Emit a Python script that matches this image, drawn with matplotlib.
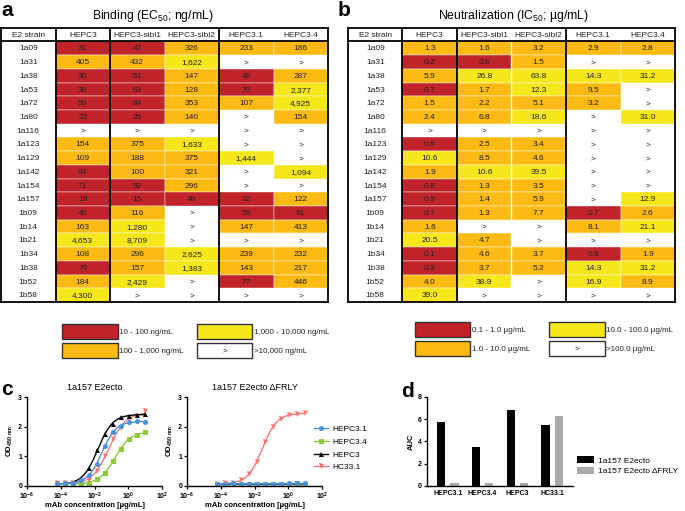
import numpy as np
import matplotlib
matplotlib.use("Agg")
import matplotlib.pyplot as plt
from matplotlib.patches import Rectangle
from matplotlib.lines import Line2D
from matplotlib.patches import Patch

plt.rcParams['font.family'] = ['Liberation Sans', 'DejaVu Sans']
plt.rcParams['mathtext.default'] = 'regular'

# ---------------- data ----------------
strains = ["1a09", "1a31", "1a38", "1a53", "1a72", "1a80", "1a116", "1a123", "1a129",
           "1a142", "1a154", "1a157", "1b09", "1b14", "1b21", "1b34", "1b38", "1b52", "1b58"]
antibodies = ["HEPC3", "HEPC3-sibl1", "HEPC3-sibl2", "HEPC3.1", "HEPC3.4"]
N = None  # ">" (no binding / neutralization at highest concentration)

bind_hepc3 = [31, 405, 36, 38, 59, 23, N, 154, 109, 64, 71, 18, 46, 163, 4653, 108, 79, 184, 4300]
bind_sibl1 = [42, 432, 51, 63, 84, 29, N, 375, 188, 100, 92, 15, 116, 1280, 8709, 296, 157, 2429, N]
bind_sibl2 = [326, 1622, 147, 128, 353, 140, N, 1633, 375, 321, 296, 48, N, N, N, 2625, 1383, N, N]
bind_hepc31 = [233, N, 49, 70, 107, N, N, N, 1444, N, N, 22, 58, 147, N, 239, 143, 77, N]
bind_hepc34 = [186, N, 287, 2377, 4925, 154, N, N, N, 1094, N, 122, 91, 413, N, 232, 217, 446, N]

neut_hepc3 = [1.3, 0.2, 5.9, 0.7, 1.5, 2.4, N, 0.9, 10.6, 1.9, 0.8, 0.9, 0.7, 1.6, 20.5, 0.1, 0.3, 4.0, 39.0]
neut_sibl1 = [1.6, 0.8, 26.8, 1.7, 2.2, 6.8, N, 2.5, 8.5, 10.6, 1.3, 1.4, 1.3, N, 4.7, 4.6, 3.7, 38.9, N]
neut_sibl2 = [3.2, 1.5, 63.8, 12.3, 5.1, 18.6, N, 3.4, 4.6, 39.5, 3.5, 5.9, 7.7, N, N, 3.7, 5.2, N, N]
neut_hepc31 = [2.9, N, 14.3, 9.5, 3.2, N, N, N, N, N, N, N, 0.7, 8.1, N, 0.9, 14.3, 16.9, N]
neut_hepc34 = [2.8, N, 31.2, N, N, 31.0, N, N, N, N, N, 12.9, 2.6, 21.1, N, 1.9, 31.2, 8.9, N]

bind_bins = [10, 100, 1000, 10000]
neut_bins = [0.1, 1.0, 10.0, 100.0]
bind_legend = ["10 - 100 ng/mL", "100 - 1,000 ng/mL", "1,000 - 10,000 ng/mL", ">10,000 ng/mL"]
neut_legend = ["0.1 - 1.0 µg/mL", "1.0 - 10.0 µg/mL", "10.0 - 100.0 µg/mL", ">100.0 µg/mL"]

# panel c: ELISA (3-fold dilutions from 10 µg/mL)
conc = [0.0000565, 0.000169, 0.000508, 0.00152, 0.00457, 0.0137, 0.0412, 0.123, 0.370, 1.11, 3.33, 10.0]
c_names = ["HEPC3.1", "HEPC3.4", "HEPC3", "HC33.1"]
od_wt = {
    "HEPC3.1": [0.06, 0.07, 0.10, 0.17, 0.34, 0.74, 1.34, 1.80, 2.02, 2.15, 2.19, 2.14],
    "HEPC3.4": [0.05, 0.05, 0.06, 0.07, 0.10, 0.22, 0.43, 0.82, 1.25, 1.59, 1.70, 1.81],
    "HEPC3":   [0.07, 0.08, 0.10, 0.20, 0.60, 1.19, 1.73, 2.10, 2.33, 2.37, 2.38, 2.41],
    "HC33.1":  [0.10, 0.07, 0.07, 0.09, 0.17, 0.50, 1.00, 1.57, 1.95, 2.25, 2.35, 2.52],
}
od_dfrly = {
    "HEPC3.1": [0.06, 0.06, 0.07, 0.06, 0.06, 0.06, 0.06, 0.06, 0.06, 0.07, 0.07, 0.07],
    "HEPC3.4": [0.05, 0.06, 0.06, 0.06, 0.05, 0.06, 0.06, 0.06, 0.06, 0.06, 0.07, 0.06],
    "HEPC3":   [0.05, 0.05, 0.05, 0.05, 0.05, 0.05, 0.05, 0.05, 0.05, 0.05, 0.05, 0.05],
    "HC33.1":  [0.05, 0.07, 0.10, 0.19, 0.38, 0.80, 1.48, 1.97, 2.27, 2.39, 2.42, 2.45],
}

# panel d: AUC
d_groups = ["HEPC3.1", "HEPC3.4", "HEPC3", "HC33.1"]
auc_wt = [5.7, 3.45, 6.85, 5.45]
auc_dfrly = [0.25, 0.25, 0.3, 6.25]

# ---------------- styles ----------------
CELL_COLORS = ["#C1232B", "#FDBA12", "#F6E71A", "white"]
TXT = "#222222"
FS_T = 6.0
c_style = {
    "HEPC3.1": dict(color="#4D90D8", marker="o"),
    "HEPC3.4": dict(color="#8DC63F", marker="s"),
    "HEPC3": dict(color="black", marker="^"),
    "HC33.1": dict(color="#F47A7A", marker="v"),
}

W, H = 685, 511
fig = plt.figure(figsize=(W / 100, H / 100), dpi=100)


def fax(x0, y0, x1, y1):
    return fig.add_axes([x0 / W, 1 - y1 / H, (x1 - x0) / W, (y1 - y0) / H])


def cat_of(v, bins):
    if v is None:
        return 3
    return int(np.clip(np.searchsorted(bins, v, side="right") - 1, 0, 2))


def draw_table(ax, cols, bins, fmt):
    nrow = len(strains) + 1
    ax.set_xlim(0, 6)
    ax.set_ylim(nrow, 0)
    ax.set_xticks([])
    ax.set_yticks([])
    for s in ax.spines.values():
        s.set_linewidth(1.3)
    hdr = ["E2 strain"] + antibodies
    for j, h in enumerate(hdr):
        ax.text(j + 0.5, 0.55, h, ha="center", va="center", fontsize=FS_T, color=TXT)
    for i, st in enumerate(strains):
        r = i + 1
        ax.text(0.5, r + 0.55, st, ha="center", va="center", fontsize=FS_T, color=TXT)
        for j, col in enumerate(cols):
            v = col[i]
            k = cat_of(v, bins)
            if k < 3:
                ax.add_patch(Rectangle((j + 1, r), 1, 1, facecolor=CELL_COLORS[k],
                                       edgecolor="white", lw=0.3, zorder=1))
            ax.text(j + 1.5, r + 0.55, ">" if v is None else fmt(v), ha="center",
                    va="center", fontsize=FS_T, color=TXT, zorder=3)
    for xv in (1, 2, 4):
        ax.plot([xv, xv], [0, nrow], color="black", lw=1.3, zorder=4, solid_capstyle="butt")
    ax.plot([0, 6], [1, 1], color="black", lw=1.3, zorder=4, solid_capstyle="butt")


ax_a = fax(1, 27.7, 328, 302)
draw_table(ax_a, [bind_hepc3, bind_sibl1, bind_sibl2, bind_hepc31, bind_hepc34], bind_bins,
           lambda v: f"{v:,}")
ax_b = fax(348, 27.7, 675, 302)
draw_table(ax_b, [neut_hepc3, neut_sibl1, neut_sibl2, neut_hepc31, neut_hepc34], neut_bins,
           lambda v: f"{v:.1f}")

# titles and panel letters
fig.text(152.5 / W, 1 - 19.5 / H, "Binding (EC$_{50}$; ng/mL)", ha="center", va="baseline", fontsize=8.8)
fig.text(514 / W, 1 - 19.5 / H, "Neutralization (IC$_{50}$; µg/mL)", ha="center", va="baseline", fontsize=8.8)
for lbl, x, y in [("a", 1, 15.5), ("b", 338, 15.5), ("c", 1, 395), ("d", 401, 397)]:
    fig.text(x / W, 1 - y / H, lbl, fontsize=15, fontweight="bold", va="baseline", ha="left")

# colour legends under tables (overlay axes in pixel units)
ov = fig.add_axes([0, 0, 1, 1], zorder=-1)
ov.set_xlim(0, W)
ov.set_ylim(H, 0)
ov.axis("off")


def color_legend(x_cols, y_rows, labels):
    order = [(0, 0), (0, 1), (1, 0), (1, 1)]
    for k, (cx, ry) in enumerate(order):
        x0 = x_cols[cx]
        y0 = y_rows[ry]
        ov.add_patch(Rectangle((x0, y0), 55.5, 14.8, facecolor=CELL_COLORS[k],
                               edgecolor="#333333", lw=1.0))
        if k == 3:
            ov.text(x0 + 27.7, y0 + 7.6, ">", ha="center", va="center", fontsize=5.8, color=TXT)
        ov.text(x0 + 57, y0 + 7.6, labels[k], ha="left", va="center", fontsize=5.8, color=TXT)


color_legend([62.3, 196.8], [324.5, 343.5], bind_legend)
color_legend([415, 549.5], [322.5, 341.5], neut_legend)


# ---------------- panel c ----------------
def fit4pl(x, y):
    lx = np.log10(x)
    y = np.asarray(y, float)
    cs = np.linspace(lx.min() - 1, lx.max() + 1, 300)
    hs = np.linspace(0.3, 3.0, 90)
    C, Hh = np.meshgrid(cs, hs, indexing="ij")
    F = 1.0 / (1.0 + 10.0 ** ((C[..., None] - lx) * Hh[..., None]))
    fm = F.mean(-1)
    ym = y.mean()
    cov = ((F - fm[..., None]) * (y - ym)).sum(-1)
    var = ((F - fm[..., None]) ** 2).sum(-1)
    slope = cov / np.maximum(var, 1e-12)
    icpt = ym - slope * fm
    sse = ((icpt[..., None] + slope[..., None] * F - y) ** 2).sum(-1)
    i = np.unravel_index(np.argmin(sse), sse.shape)
    c, h, b, s = cs[i[0]], hs[i[1]], icpt[i], slope[i]
    xs = np.logspace(lx.min(), lx.max(), 200)
    return xs, b + s / (1.0 + 10.0 ** ((c - np.log10(xs)) * h))


def draw_elisa(ax, data, title):
    x = np.array(conc)
    for name in reversed(c_names):
        st = c_style[name]
        xs, ys = fit4pl(x, data[name])
        ax.plot(xs, ys, color=st["color"], lw=1.0)
        ax.plot(x, data[name], linestyle="none", marker=st["marker"], color=st["color"],
                markersize=3.6, markeredgewidth=0)
    ax.set_xscale("log")
    ax.set_xlim(1e-6, 1e2)
    ax.set_ylim(0, 3)
    ax.set_xticks([1e-6, 1e-4, 1e-2, 1e0, 1e2])
    ax.set_xticklabels(["$10^{-6}$", "$10^{-4}$", "$10^{-2}$", "$10^{0}$", "$10^{2}$"])
    ax.xaxis.set_minor_locator(matplotlib.ticker.NullLocator())
    ax.set_yticks([0, 1, 2, 3])
    for s in ("top", "right"):
        ax.spines[s].set_visible(False)
    for s in ("left", "bottom"):
        ax.spines[s].set_linewidth(1.0)
    ax.tick_params(length=2.5, width=0.9, labelsize=5, pad=1)
    for t in ax.get_xticklabels() + ax.get_yticklabels():
        t.set_fontweight("bold")
    ax.set_title(title, fontsize=6.5, pad=5)
    ax.set_xlabel("mAb concentration [µg/mL]", fontsize=5.5, fontweight="bold", labelpad=0.5)
    ax.set_ylabel("OD$_{450\\ nm}$", fontsize=5.5, fontweight="bold", labelpad=2)


ax_c1 = fax(27, 397, 162, 485.5)
draw_elisa(ax_c1, od_wt, "1a157 E2ecto")
ax_c2 = fax(187, 397, 322, 485.5)
draw_elisa(ax_c2, od_dfrly, "1a157 E2ecto ΔFRLY")

handles = [Line2D([], [], color=c_style[n]["color"], marker=c_style[n]["marker"], markersize=3.6,
                  markeredgewidth=0, lw=1.0) for n in c_names]
fig.legend(handles, c_names, loc="upper left", bbox_to_anchor=(314 / W, 1 - 425 / H),
           frameon=False, fontsize=6, handlelength=1.7, handletextpad=0.5,
           labelspacing=0.6, borderaxespad=0, borderpad=0)

# ---------------- panel d ----------------
ax_d = fax(427, 396.7, 573, 486)
xg = np.arange(len(d_groups))
bw = 0.24
ax_d.bar(xg - 0.19, auc_wt, width=bw, color="black")
ax_d.bar(xg + 0.19, auc_dfrly, width=bw, color="#A9A9A9")
ax_d.set_xlim(-0.6, 3.6)
ax_d.set_ylim(0, 8)
ax_d.set_yticks([0, 2, 4, 6, 8])
ax_d.set_xticks(xg)
ax_d.set_xticklabels(d_groups)
for s in ("top", "right"):
    ax_d.spines[s].set_visible(False)
for s in ("left", "bottom"):
    ax_d.spines[s].set_linewidth(1.0)
ax_d.tick_params(axis="y", length=2.5, width=0.9, labelsize=5, pad=1.5)
ax_d.tick_params(axis="x", length=0, labelsize=5, pad=3)
for t in ax_d.get_xticklabels() + ax_d.get_yticklabels():
    t.set_fontweight("bold")
ax_d.set_ylabel("AUC", fontsize=5.5, fontweight="bold", labelpad=2)

fig.legend([Patch(facecolor="black"), Patch(facecolor="#A9A9A9")],
           ["1a157 E2ecto", "1a157 E2ecto ΔFRLY"], loc="upper left",
           bbox_to_anchor=(577 / W, 1 - 456 / H), frameon=False, fontsize=6,
           handlelength=2.0, handleheight=1.0, handletextpad=0.5, labelspacing=0.25,
           borderaxespad=0, borderpad=0)

fig.savefig("out.png", dpi=100)
